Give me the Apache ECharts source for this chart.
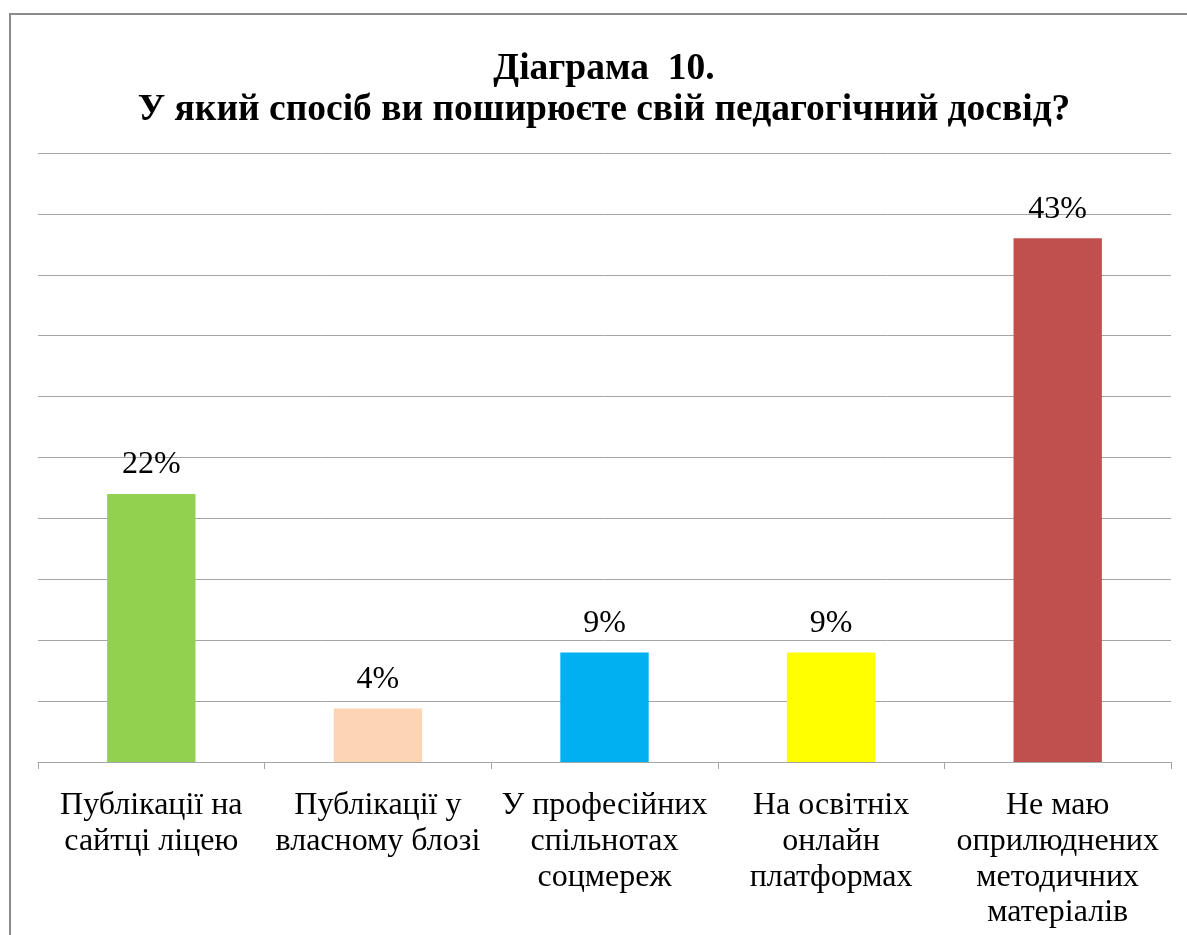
<!DOCTYPE html>
<html>
<head>
<meta charset="utf-8">
<script src="https://cdn.jsdelivr.net/npm/echarts@6/dist/echarts.min.js"></script>
<style>
html,body{margin:0;padding:0;background:#fff;}
#c{width:1187px;height:935px;}
</style>
</head>
<body>
<div id="c"></div>
<script>
const titleLines = ['Діаграма  10.', 'У який спосіб ви поширюєте свій педагогічний досвід?'];
const categories = [
  'Публікації на\nсайтці ліцею',
  'Публікації у\nвласному блозі',
  'У професійних\nспільнотах\nсоцмереж',
  'На освітніх\nонлайн\nплатформах',
  'Не маю\nоприлюднених\nметодичних\nматеріалів'
];
const values = [22, 4.4, 9, 9, 43];
const colors = ['#92D050', '#FCD5B5', '#00B0F0', '#FFFF00', '#C0504D'];

const serif = '"Liberation Serif", "Times New Roman", serif';
const chart = echarts.init(document.getElementById('c'));
chart.setOption({
  animation: false,
  backgroundColor: '#fff',
  title: {
    text: titleLines.join('\n'),
    left: 604,
    top: 49,
    padding: 0,
    textAlign: 'center',
    textStyle: {fontFamily: serif, fontWeight: 'bold', fontSize: 37.5, lineHeight: 41, color: '#000'}
  },
  graphic: [{
    type: 'rect',
    shape: {x: 10, y: 14, width: 1200, height: 960},
    style: {fill: 'none', stroke: '#8c8c8c', lineWidth: 2},
    silent: true
  }],
  grid: {left: 38, right: 16, top: 153, bottom: 173},
  xAxis: {
    type: 'category',
    data: categories,
    axisLine: {lineStyle: {color: '#a6a6a6', width: 1}},
    axisTick: {show: true, length: 7, lineStyle: {color: '#a6a6a6'}},
    axisLabel: {interval: 0, margin: 26, fontFamily: serif, fontSize: 32, lineHeight: 35.7, color: '#000', align: 'center'}
  },
  yAxis: {
    type: 'value',
    min: 0, max: 50, interval: 5,
    axisLabel: {show: false},
    axisLine: {show: false},
    axisTick: {show: false},
    splitLine: {lineStyle: {color: '#a6a6a6', width: 1}}
  },
  series: [{
    type: 'bar',
    barWidth: '39%',
    data: values.map((v, i) => ({value: v, itemStyle: {color: colors[i]}})),
    label: {
      show: true,
      position: 'top',
      distance: 13,
      fontFamily: serif,
      fontSize: 32,
      color: '#000',
      formatter: p => Math.round(p.value) + '%'
    }
  }]
});
</script>
</body>
</html>
